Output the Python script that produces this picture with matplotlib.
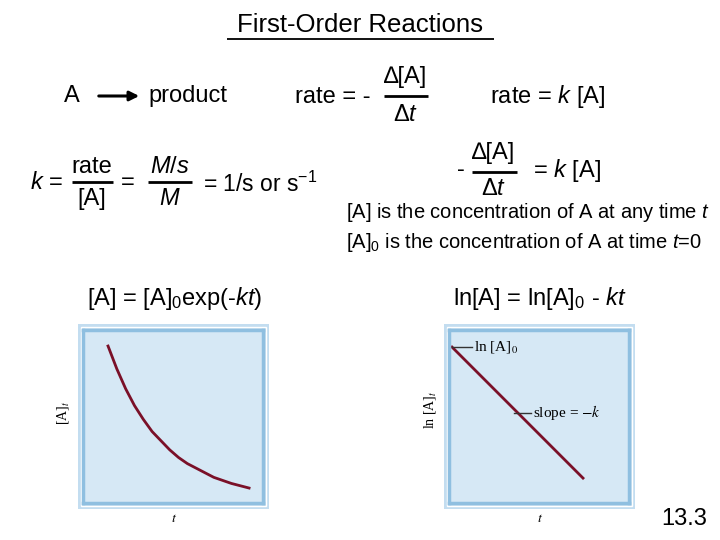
import matplotlib
matplotlib.use('Agg')
import matplotlib.pyplot as plt
from matplotlib.patches import Rectangle

plt.rcParams['font.family'] = ['Liberation Sans', 'DejaVu Sans']
plt.rcParams['mathtext.fontset'] = 'custom'
plt.rcParams['mathtext.rm'] = 'Liberation Sans'
plt.rcParams['mathtext.it'] = 'Liberation Sans:italic'
plt.rcParams['mathtext.default'] = 'rm'

t_decay = [0, 0.5, 1, 1.5, 2, 2.5, 3, 3.5, 4, 4.5, 5, 5.5, 6, 6.5, 7, 7.5, 8]
conc_decay = [1.00, 0.85, 0.72, 0.61, 0.52, 0.44, 0.38, 0.32, 0.27,
              0.23, 0.20, 0.17, 0.14, 0.12, 0.10, 0.085, 0.07]
t_lin = [0, 10]
ln_conc = [1.0, 0.0]

W, H = 720, 540
fig = plt.figure(figsize=(7.2, 5.4), dpi=100)
fig.patch.set_facecolor('white')

# background axes in pixel coords for text and frames
bg = fig.add_axes([0, 0, 1, 1], zorder=0)
bg.set_xlim(0, W)
bg.set_ylim(H, 0)
bg.axis('off')


def txt(x, y, s, size=17, ha='left', **kw):
    bg.text(x, y, s, fontsize=size, ha=ha, va='center', **kw)


def hline(x0, x1, y, lw=2):
    bg.plot([x0, x1], [y, y], color='black', lw=lw, solid_capstyle='butt')


# title
txt(360, 25, 'First-Order Reactions', size=18.5, ha='center')
hline(227, 494, 39, lw=1.3)

# reaction line
txt(72, 96, 'A', ha='center')
bg.annotate('', xy=(142, 96), xytext=(96, 96),
            arrowprops=dict(arrowstyle='-|>', color='black', lw=2.2, mutation_scale=14))
txt(148, 96, 'product')

txt(295, 97, 'rate = -')
txt(406, 77, '∆[A]', ha='center')
hline(384, 428, 96)
txt(406, 115, r'$\mathrm{\Delta}\mathit{t}$', ha='center')

txt(490, 97, r'rate = $\mathit{k}$ [A]')

# k units
txt(30, 183, r'$\mathit{k}$ =')
txt(92, 167, 'rate', ha='center')
hline(72, 113, 182)
txt(92, 199, '[A]', ha='center')
txt(128, 183, '=', ha='center')
txt(170, 167, r'$\mathit{M/s}$', ha='center')
hline(148, 192, 182)
txt(170, 199, r'$\mathit{M}$', ha='center')
txt(203, 184, r'= 1/s or s$^{\mathregular{-1}}$', size=16.5)

# differential rate law
txt(457, 170, '-')
txt(494, 153, '∆[A]', ha='center')
hline(472, 517, 172)
txt(494, 189, r'$\mathrm{\Delta}\mathit{t}$', ha='center')
txt(533, 170, r'= $\mathit{k}$ [A]')

txt(346, 213, r'[A] is the concentration of A at any time $\mathit{t}$', size=14.5)
txt(346, 243, r'[A]$_0$ is the concentration of A at time $\mathit{t}$=0', size=14.5)

# integrated rate laws
txt(87, 298, r'[A] = [A]$_0$exp(-$\mathit{kt}$)', size=17)
txt(453, 298, r'ln[A] = ln[A]$_0$ - $\mathit{kt}$', size=17)

txt(707, 519, '13.3', size=17, ha='right')


def framed_axes(x0, x1, y0, y1):
    # outer pale frame plus white keyline
    bg.add_patch(Rectangle((x0, y0), x1 - x0, y1 - y0, facecolor='#c3ddf0', edgecolor='none'))
    bg.add_patch(Rectangle((x0 + 3, y0 + 3), x1 - x0 - 6, y1 - y0 - 6,
                           facecolor='none', edgecolor='white', lw=1))
    ix0, ix1, iy0, iy1 = x0 + 5, x1 - 6, y0 + 6, y1 - 6
    ax = fig.add_axes([ix0 / W, 1 - iy1 / H, (ix1 - ix0) / W, (iy1 - iy0) / H], zorder=1)
    ax.set_facecolor('#d6e8f5')
    for sp in ax.spines.values():
        sp.set_color('#8fbfe0')
        sp.set_linewidth(2.5)
    ax.set_xticks([])
    ax.set_yticks([])
    return ax


serif = dict(family='Liberation Serif', math_fontfamily='stix')

ax1 = framed_axes(78, 269, 324, 509)
ax1.plot(t_decay, conc_decay, color='#7a1028', lw=2, solid_joinstyle='round')
ax1.set_xlim(-1.42, 8.79)
ax1.set_ylim(-0.028, 1.105)
bg.text(63, 413, r'[A]$_\mathit{t}$', fontsize=10, rotation=90, ha='center', va='center', **serif)
bg.text(174, 518, r'$\mathit{t}$', fontsize=10, ha='center', va='center', **serif)

ax2 = framed_axes(444, 635, 324, 509)
ax2.plot(t_lin, ln_conc, color='#7a1028', lw=2)
ax2.set_xlim(-0.23, 13.51)
ax2.set_ylim(-0.19, 1.13)
ax2.plot([0, 1.55], [1.0, 1.0], color='#333333', lw=1)
ax2.text(1.7, 1.0, r'ln [A]$_0$', fontsize=11, va='center', **serif)
ax2.plot([4.7, 6.0], [0.5, 0.5], color='#333333', lw=1)
ax2.text(6.15, 0.5, r'slope = $-\mathit{k}$', fontsize=11, va='center', **serif)
bg.text(430, 410, r'ln [A]$_\mathit{t}$', fontsize=10, rotation=90, ha='center', va='center', **serif)
bg.text(540, 518, r'$\mathit{t}$', fontsize=10, ha='center', va='center', **serif)

fig.savefig('out.png', dpi=100)
